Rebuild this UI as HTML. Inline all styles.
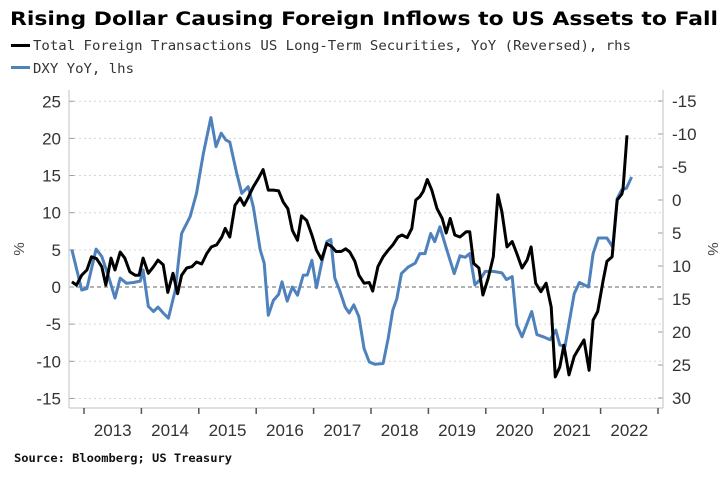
<!DOCTYPE html>
<html><head><meta charset="utf-8">
<style>
html,body{margin:0;padding:0;background:#fff;}
svg{display:block;}
</style></head>
<body>
<svg id="chart" width="726" height="485" viewBox="0 0 726 485" xmlns="http://www.w3.org/2000/svg">
  <text x="10" y="25" font-family="DejaVu Sans, sans-serif" font-weight="bold" font-size="18.5" textLength="708" lengthAdjust="spacingAndGlyphs" fill="#000">Rising Dollar Causing Foreign Inflows to US Assets to Fall</text>
  <g>
    <g>
      <rect x="11" y="44" width="19" height="3" fill="#000"/>
      <text x="33" y="50" font-family="DejaVu Sans Mono, Liberation Mono, monospace" font-size="13" textLength="598" lengthAdjust="spacingAndGlyphs" fill="#333">Total Foreign Transactions US Long-Term Securities, YoY (Reversed), rhs</text>
    </g>
    <g>
      <rect x="11" y="66" width="19" height="3" fill="#4f81bd"/>
      <text x="33" y="73" font-family="DejaVu Sans Mono, Liberation Mono, monospace" font-size="13" textLength="101" lengthAdjust="spacingAndGlyphs" fill="#333">DXY YoY, lhs</text>
    </g>
  </g>
  <g id="grid"></g>
  <g id="axes"></g>
  <g id="series"></g>
  <text transform="translate(24,249) rotate(-90)" text-anchor="middle" font-family="Liberation Sans, sans-serif" font-size="15" fill="#444">%</text>
  <text transform="translate(708,249) rotate(90)" text-anchor="middle" font-family="Liberation Sans, sans-serif" font-size="15" fill="#444">%</text>
  <text x="14" y="462" font-family="DejaVu Sans Mono, Liberation Mono, monospace" font-weight="bold" font-size="11.5" textLength="218" lengthAdjust="spacingAndGlyphs" fill="#111">Source: Bloomberg; US Treasury</text>
</svg>
<script>
const leftTicks = [25,20,15,10,5,0,-5,-10,-15];
const rightTicks = [-15,-10,-5,0,5,10,15,20,25,30];
const years = [2013,2014,2015,2016,2017,2018,2019,2020,2021,2022];
const dxyDates = [2012.79,2012.96,2013.05,2013.21,2013.31,2013.42,2013.54,2013.63,2013.74,2013.86,2013.98,2014.03,2014.12,2014.21,2014.29,2014.38,2014.47,2014.59,2014.70,2014.85,2014.96,2015.08,2015.21,2015.30,2015.39,2015.47,2015.54,2015.66,2015.75,2015.86,2015.95,2016.07,2016.14,2016.21,2016.30,2016.39,2016.45,2016.54,2016.63,2016.72,2016.82,2016.89,2016.97,2017.05,2017.14,2017.23,2017.30,2017.37,2017.46,2017.55,2017.62,2017.70,2017.79,2017.88,2017.97,2018.07,2018.21,2018.30,2018.38,2018.45,2018.53,2018.65,2018.77,2018.85,2018.94,2019.04,2019.11,2019.20,2019.32,2019.45,2019.55,2019.64,2019.72,2019.81,2019.90,2019.99,2020.13,2020.28,2020.36,2020.46,2020.54,2020.63,2020.80,2020.89,2021.00,2021.12,2021.22,2021.29,2021.38,2021.45,2021.54,2021.63,2021.79,2021.87,2021.96,2022.11,2022.21,2022.29,2022.37,2022.45,2022.54];
const dxyValues = [5.0,-0.4,-0.2,5.1,4.1,1.6,-1.5,1.2,0.5,0.6,0.8,2.3,-2.6,-3.3,-2.7,-3.5,-4.2,-0.4,7.2,9.5,12.6,18,22.8,18.9,20.7,19.8,19.5,15.3,12.6,13.5,10.8,5.0,3.2,-3.8,-1.8,-1.0,0.7,-1.9,0,-1.1,1.6,1.6,3.6,-0.1,3.2,6.1,6.4,1.2,-0.6,-2.7,-3.5,-2.4,-4.0,-8.3,-10.1,-10.4,-10.3,-6.9,-3.1,-1.6,1.8,2.7,3.2,4.5,4.5,7.2,6.1,8.1,5.0,1.8,4.2,4.0,4.5,0.3,1.0,2.1,2.1,1.9,1.0,1.4,-5.1,-6.7,-3.3,-6.4,-6.7,-7.1,-5.8,-7.8,-8.0,-4.9,-0.9,0.6,0,4.5,6.6,6.6,5.4,11.9,13.1,13.3,14.8];
const flowDates = [2012.79,2012.87,2012.96,2013.05,2013.13,2013.22,2013.31,2013.38,2013.47,2013.54,2013.63,2013.71,2013.80,2013.89,2013.96,2014.03,2014.12,2014.21,2014.29,2014.38,2014.46,2014.55,2014.63,2014.70,2014.79,2014.88,2014.96,2015.05,2015.14,2015.22,2015.31,2015.40,2015.46,2015.54,2015.63,2015.72,2015.79,2015.86,2015.95,2016.04,2016.12,2016.21,2016.30,2016.39,2016.47,2016.55,2016.63,2016.72,2016.79,2016.88,2016.97,2017.05,2017.14,2017.23,2017.32,2017.39,2017.48,2017.56,2017.63,2017.72,2017.79,2017.88,2017.97,2018.03,2018.12,2018.21,2018.30,2018.38,2018.47,2018.54,2018.63,2018.71,2018.78,2018.85,2018.91,2018.98,2019.06,2019.15,2019.24,2019.31,2019.38,2019.46,2019.55,2019.66,2019.72,2019.79,2019.88,2019.95,2020.04,2020.13,2020.21,2020.28,2020.37,2020.46,2020.54,2020.63,2020.72,2020.79,2020.87,2020.96,2021.05,2021.14,2021.21,2021.29,2021.36,2021.45,2021.54,2021.62,2021.71,2021.80,2021.87,2021.95,2022.04,2022.11,2022.20,2022.29,2022.37,2022.39,2022.46];
const flowValues = [12.4,12.9,11.4,10.6,8.6,8.9,10.1,12.9,8.8,10.6,7.9,8.8,10.9,11.4,11.4,8.8,11.1,10.1,9.1,9.8,14.0,11.1,14.2,11.4,10.3,10.1,9.4,9.7,8.1,7.1,6.8,5.6,4.3,5.6,0.8,-0.3,0.8,-0.4,-2.0,-3.3,-4.6,-1.5,-1.5,-1.4,0.3,1.3,4.6,6.1,2.4,3.1,5.3,7.6,9.0,6.6,7.1,7.8,7.8,7.4,7.9,9.3,11.4,12.6,12.5,13.8,10.1,8.6,7.6,6.8,5.6,5.3,5.7,4.3,0,-0.5,-1.3,-3.1,-1.5,1.3,2.8,5.0,2.8,5.3,5.6,4.8,4.8,9.6,10.3,14.4,11.9,8.6,-0.8,1.8,7.1,6.3,8.1,10.3,9.1,7.1,12.6,13.9,12.6,16.2,26.8,25.3,22.0,26.5,23.7,22.5,21.2,25.8,18.2,16.9,12.4,9.3,8.6,0,-0.9,-1.6,-9.8];

const NS = 'http://www.w3.org/2000/svg';
const PL = 69, PR = 663, PT = 90, PB = 408;
function xs(t){ return 84 + (t - 2013) * 57.4; }
function yl(v){ return 287 - v * 7.43; }
function yr(v){ return 200 + v * 6.6; }
function mk(tag, attrs, parent){ const e = document.createElementNS(NS, tag); for (const k in attrs) e.setAttribute(k, attrs[k]); parent.appendChild(e); return e; }
const grid = document.getElementById('grid'), axes = document.getElementById('axes'), series = document.getElementById('series');

leftTicks.forEach(v => {
  const y = yl(v);
  if (v !== 0) {
    const g = mk('line', {x1:PL, x2:PR, y1:y, y2:y, stroke:'#d6d6d6', 'stroke-width':1, 'stroke-dasharray':'2,3'}, grid);
    
    
  }
  const tk = mk('line', {x1:PL, x2:PL+5, y1:y, y2:y, stroke:'#999', 'stroke-width':1}, axes);
  
  
  const t = mk('text', {x:61, y:y+6, 'text-anchor':'end', 'font-family':'Liberation Sans Narrow, Liberation Sans, sans-serif', 'font-size':17, fill:'#333'}, axes);
  t.textContent = v;
  
  
});
const zl = mk('line', {x1:PL, x2:PR, y1:yl(0), y2:yl(0), stroke:'#666', 'stroke-width':1, 'stroke-dasharray':'4,3'}, grid);



rightTicks.forEach(v => {
  const y = yr(v);
  const tk = mk('line', {x1:PR-5, x2:PR, y1:y, y2:y, stroke:'#999', 'stroke-width':1}, axes);
  
  
  const t = mk('text', {x:672, y:y+6, 'text-anchor':'start', 'font-family':'Liberation Sans Narrow, Liberation Sans, sans-serif', 'font-size':17, fill:'#333'}, axes);
  t.textContent = v;
  
  
});

const la = mk('line', {x1:PL, x2:PL, y1:PT, y2:PB, stroke:'#ccc', 'stroke-width':1.2}, axes);


const ra = mk('line', {x1:PR, x2:PR, y1:PT, y2:PB, stroke:'#ccc', 'stroke-width':1.2}, axes);


const ba = mk('line', {x1:PL, x2:PR, y1:PB, y2:PB, stroke:'#ccc', 'stroke-width':1.2}, axes);



years.concat([2023]).forEach(yv => {
  const x = xs(yv);
  const tk = mk('line', {x1:x, x2:x, y1:PB, y2:PB+6, stroke:'#555', 'stroke-width':1.5}, axes);
  
  
});
years.forEach(yv => {
  const t = mk('text', {x:xs(yv + 0.5), y:436, 'text-anchor':'middle', 'font-family':'Liberation Sans Narrow, Liberation Sans, sans-serif', 'font-size':17, fill:'#333'}, axes);
  t.textContent = yv;
  
  
});

const dxyPts = dxyDates.map((d,i) => xs(d).toFixed(1) + ',' + yl(dxyValues[i]).toFixed(1)).join(' ');
const dl = mk('polyline', {points:dxyPts, fill:'none', stroke:'#4f81bd', 'stroke-width':3, 'stroke-linejoin':'round'}, series);



const flowPts = flowDates.map((d,i) => xs(d).toFixed(1) + ',' + yr(flowValues[i]).toFixed(1)).join(' ');
const fl = mk('polyline', {points:flowPts, fill:'none', stroke:'#000', 'stroke-width':3, 'stroke-linejoin':'round'}, series);


</script>
</body></html>
